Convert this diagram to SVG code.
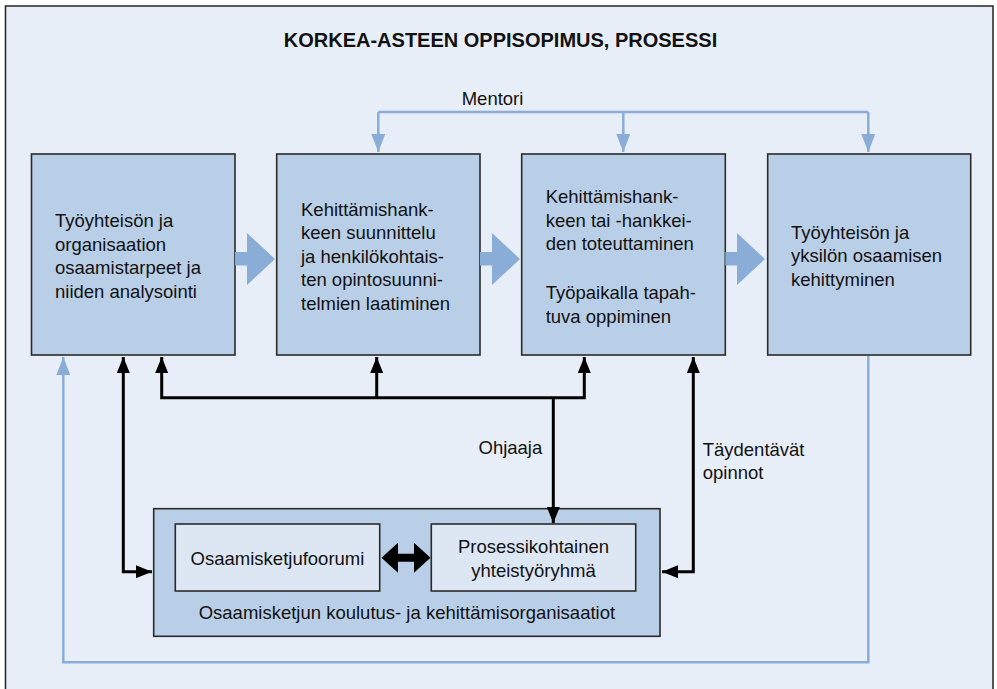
<svg xmlns="http://www.w3.org/2000/svg" width="997" height="689" viewBox="0 0 997 689">
<style>
text{font-family:"Liberation Sans",Arial,sans-serif;font-size:18.5px;fill:#111}
.title{font-weight:bold;font-size:20px;text-anchor:middle}
.box{fill:#b9cfe7;stroke:#2a2a2a;stroke-width:1.6}
.inner{fill:#dde7f3;stroke:#2a2a2a;stroke-width:1.6}
.blue{fill:none;stroke:#8aadd8;stroke-width:2.5}
.blk{fill:none;stroke:#000;stroke-width:3}
.big{fill:#8aadd8}
.mid{text-anchor:middle}
</style>
<defs>
<marker id="mb" markerUnits="userSpaceOnUse" markerWidth="18" markerHeight="14" refX="18" refY="7" orient="auto-start-reverse" viewBox="0 0 18 14"><path d="M0,0 L18,7 L0,14 z" fill="#8aadd8"/></marker>
<marker id="mk" markerUnits="userSpaceOnUse" markerWidth="16" markerHeight="13" refX="16" refY="6.5" orient="auto-start-reverse" viewBox="0 0 16 13"><path d="M0,0 L16,6.5 L0,13 z" fill="#000"/></marker>
</defs>
<rect x="5.5" y="6" width="987.5" height="690" fill="#e8eef7" stroke="#222" stroke-width="1.5"/>
<text class="title" x="500.5" y="47">KORKEA-ASTEEN OPPISOPIMUS, PROSESSI</text>

<g id="n1">
<rect class="box" x="31.5" y="154" width="203.5" height="201"/>
<text x="55" y="227.3">Työyhteisön ja</text>
<text x="55" y="250.8">organisaation</text>
<text x="55" y="274.3">osaamistarpeet ja</text>
<text x="55" y="297.8">niiden analysointi</text>
</g>
<g id="n2">
<rect class="box" x="276.7" y="154" width="203.3" height="201"/>
<text x="301" y="216">Kehittämishank-</text>
<text x="301" y="239.4">keen suunnittelu</text>
<text x="301" y="262.8">ja henkilökohtais-</text>
<text x="301" y="286.2">ten opintosuunni-</text>
<text x="301" y="309.6">telmien laatiminen</text>
</g>
<g id="n3">
<rect class="box" x="521.7" y="154" width="203.6" height="201"/>
<text x="545.7" y="203.3">Kehittämishank-</text>
<text x="545.7" y="226.8">keen tai -hankkei-</text>
<text x="545.7" y="250.3">den toteuttaminen</text>
<text x="545.7" y="299.3">Työpaikalla tapah-</text>
<text x="545.7" y="322.7">tuva oppiminen</text>
</g>
<g id="n4">
<rect class="box" x="767.7" y="154" width="203" height="201"/>
<text x="791" y="239">Työyhteisön ja</text>
<text x="791" y="262.4">yksilön osaamisen</text>
<text x="791" y="285.8">kehittyminen</text>
</g>
<g id="n5">
<rect class="box" x="153.7" y="508.7" width="506.3" height="127.6"/>
<text class="mid" x="406.9" y="619.3">Osaamisketjun koulutus- ja kehittämisorganisaatiot</text>
</g>
<g id="n6">
<rect class="inner" x="175.3" y="524" width="204.4" height="67"/>
<text class="mid" x="277.5" y="565">Osaamisketjufoorumi</text>
</g>
<g id="n7">
<rect class="inner" x="431.3" y="524" width="204.4" height="67"/>
<text class="mid" x="533.5" y="553.3">Prosessikohtainen</text>
<text class="mid" x="533.5" y="577.3">yhteistyöryhmä</text>
</g>

<g id="connectors">
<path class="blue" d="M378.3,112 H868.3"/>
<path class="blue" d="M378.3,112 V152" marker-end="url(#mb)"/>
<path class="blue" d="M623.3,112 V152" marker-end="url(#mb)"/>
<path class="blue" d="M868.3,112 V152" marker-end="url(#mb)"/>
<path class="blue" d="M868.3,356 V662.3 H63.3 V357" marker-end="url(#mb)"/>
<path class="blk" d="M123.3,357 V571.7 H152" marker-start="url(#mk)" marker-end="url(#mk)"/>
<path class="blk" d="M161.7,357 V397.7 H584.3 V357" marker-start="url(#mk)" marker-end="url(#mk)"/>
<path class="blk" d="M376.7,397.7 V357" marker-end="url(#mk)"/>
<path class="blk" d="M553.3,397.7 V523" marker-end="url(#mk)"/>
<path class="blk" d="M693.3,357 V571.7 H662" marker-start="url(#mk)" marker-end="url(#mk)"/>
<polygon class="big" points="235,252 247,252 247,233 275,259 247,285 247,265.5 235,265.5"/>
<polygon class="big" points="480,252 492,252 492,233 520,259 492,285 492,265.5 480,265.5"/>
<polygon class="big" points="725.3,252 737,252 737,233 765,259 737,285 737,265.5 725.3,265.5"/>
<polygon fill="#000" points="381.5,557.7 398,542.7 398,553.7 414,553.7 414,542.7 430.5,557.7 414,572.7 414,561.7 398,561.7 398,572.7"/>
<text x="461.7" y="104.5">Mentori</text>
<text x="478.5" y="454">Ohjaaja</text>
<text x="702.7" y="456">Täydentävät</text>
<text x="702.7" y="479.3">opinnot</text>
</g>
</svg>
